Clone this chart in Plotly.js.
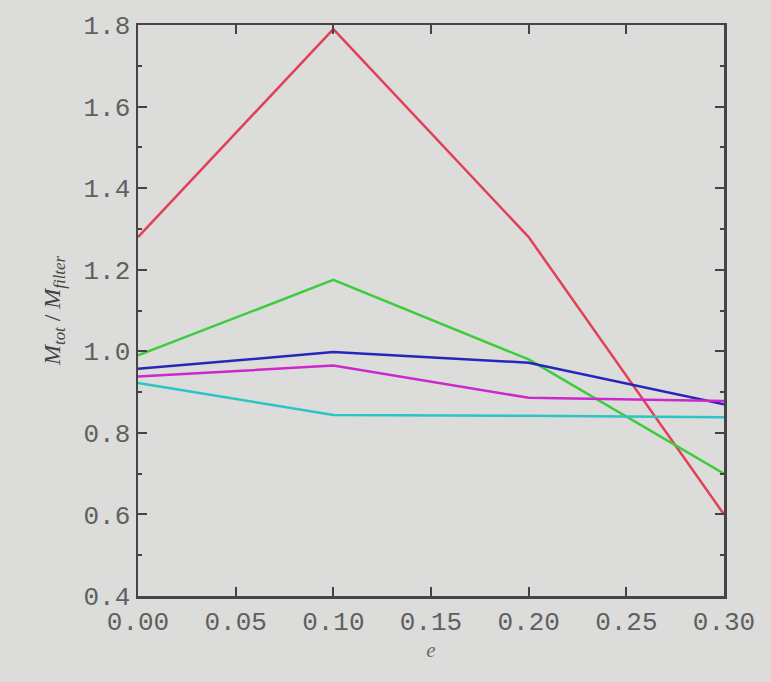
<!DOCTYPE html>
<html><head><meta charset="utf-8">
<script src="https://cdn.plot.ly/plotly-3.0.1.min.js"></script>
<style>body{margin:0;background:#dcdcda;}</style>
</head><body>
<div id="chart" style="width:771px;height:682px;"></div>
<script>
const eValues = [0.0, 0.1, 0.2, 0.3];
const redSeries = [1.28, 1.79, 1.28, 0.60];
const greenSeries = [0.99, 1.175, 0.98, 0.70];
const blueSeries = [0.957, 0.998, 0.972, 0.870];
const magentaSeries = [0.938, 0.965, 0.886, 0.878];
const cyanSeries = [0.922, 0.844, 0.842, 0.838];
const seriesList = [
  {y: redSeries, color: '#e2405a'},
  {y: greenSeries, color: '#3ccc3c'},
  {y: blueSeries, color: '#2626bc'},
  {y: magentaSeries, color: '#cc28cc'},
  {y: cyanSeries, color: '#2cc4c4'}
];
const traces = seriesList.map(s => ({
  x: eValues, y: s.y, mode: 'lines', type: 'scatter',
  line: {color: s.color, width: 2.5}, showlegend: false, hoverinfo: 'skip'
}));
const fontFam = '"Liberation Mono", "DejaVu Sans Mono", monospace';
const layout = {
  width: 771, height: 682,
  paper_bgcolor: '#dcdcda', plot_bgcolor: '#dcdcda',
  margin: {l: 138, r: 47, t: 25, b: 86},
  font: {family: fontFam, color: '#606060', size: 26},
  xaxis: {
    range: [0, 0.30], dtick: 0.05, tick0: 0, tickformat: '.2f',
    showgrid: false, zeroline: false, showline: true, linecolor: '#444', linewidth: 2.5,
    mirror: 'ticks', ticks: 'inside', ticklen: 9, tickwidth: 2, tickcolor: '#444',
    tickfont: {family: fontFam, size: 26, color: '#606060'},
    title: {text: '<i>e</i>', font: {family: '"Liberation Serif", serif', size: 21, color: '#707070'}, standoff: 2}
  },
  yaxis: {
    range: [0.4, 1.8], dtick: 0.2, tick0: 0.4, tickformat: '.1f',
    showgrid: false, zeroline: false, showline: true, linecolor: '#444', linewidth: 2.5,
    mirror: 'ticks', ticks: 'inside', ticklen: 9, tickwidth: 2, tickcolor: '#444',
    minor: {dtick: 0.1, ticklen: 4, tickwidth: 2, tickcolor: '#444', ticks: 'inside', showgrid: false},
    tickfont: {family: fontFam, size: 26, color: '#606060'},
    title: {text: '<i>M</i><sub><i>tot</i></sub> / <i>M</i><sub><i>filter</i></sub>', font: {family: '"Liberation Serif", serif', size: 24, color: '#444'}, standoff: 16}
  }
};
Plotly.newPlot('chart', traces, layout, {displayModeBar: false, staticPlot: true});
</script>
</body></html>
